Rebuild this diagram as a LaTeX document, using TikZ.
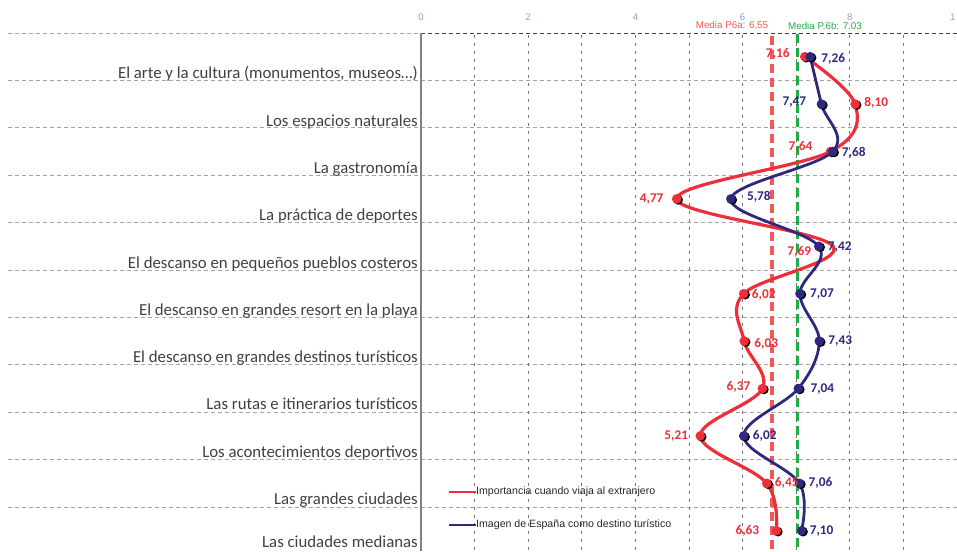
\documentclass[tikz,border=0pt]{standalone}
\usepackage{fontspec}
\setmainfont{Carlito}
\newfontfamily\arialfont{Liberation Sans}
\usetikzlibrary{positioning}

\definecolor{redline}{RGB}{238,46,56}
\definecolor{blueline}{RGB}{46,40,126}
\definecolor{redmean}{RGB}{242,88,88}
\definecolor{greenmean}{RGB}{34,172,72}
\definecolor{gridgray}{RGB}{165,165,165}
\definecolor{catgray}{RGB}{64,64,64}
\definecolor{ticklbl}{RGB}{140,158,188}

\begin{document}
\begin{tikzpicture}[x=1pt,y=-1pt]
        \tikzstyle{every node}=[inner sep=0pt]
        \tikzstyle{hgrid}=[draw=gridgray, line width=0.7pt, dash pattern=on 4pt off 3pt]
        \tikzstyle{vgrid}=[draw=gridgray!70!black, line width=0.7pt, dash pattern=on 3pt off 5pt]
        \tikzstyle{cat}=[anchor=base east, text=catgray, font=\fontsize{16.8}{18}\selectfont]
        \tikzstyle{redval}=[text=redline, font=\bfseries\fontsize{13.3}{15}\selectfont]
        \tikzstyle{blueval}=[text=blueline, font=\bfseries\fontsize{13.3}{15}\selectfont]
        \tikzstyle{small}=[font=\arialfont\fontsize{9.5}{11}\selectfont]
        \tikzstyle{redcurve}=[draw=redline, line width=3.2pt, line cap=round, line join=round]
        \tikzstyle{bluecurve}=[draw=blueline, line width=2.8pt, line cap=round, line join=round]
        \tikzstyle{meanline}=[line width=3.2pt, dash pattern=on 9pt off 5pt]
        \useasboundingbox (0,0) rectangle (957,551);

        % grid
        \foreach \i in {1,...,10} \draw[hgrid] (8,{33+47.4*\i}) -- (957,{33+47.4*\i});
        \draw[hgrid] (8,33) -- (421,33);
        \draw[draw=black!75, line width=0.8pt, dash pattern=on 4pt off 3pt] (421,33) -- (957,33);
        \foreach \k in {1,...,9} \draw[vgrid] ({421+53.6*\k},35) -- ({421+53.6*\k},551);
        \draw[gray, line width=1.3pt] (421,33) -- (421,551);
        \foreach \k in {0,2,4,6,8} \node[small, text=ticklbl] (t\k) at ({421+53.6*\k},17) {\k};
        \node[small, text=ticklbl, anchor=west] (t10) at (950,17) {1};

        % categories
        \foreach \txt [count=\i] in {{El arte y la cultura (monumentos, museos\ldots)},Los espacios naturales,
            La gastronomía,La práctica de deportes,El descanso en pequeños pueblos costeros,
            El descanso en grandes resort en la playa,El descanso en grandes destinos turísticos,
            Las rutas e itinerarios turísticos,Los acontecimientos deportivos,Las grandes ciudades,
            Las ciudades medianas}
            \node[cat] (c\i) at (418,{min(33+47.3*\i-1.5,547)}) {\txt};

        % means
        \coordinate (ma) at ({421+53.6*6.55},36);
        \coordinate (mb) at ({421+53.6*7.03},34);
        \draw[meanline, redmean] (ma) -- (ma |- 0,551);
        \draw[meanline, greenmean] (mb) -- (mb |- 0,551);
        \node[text=redmean, font=\arialfont\fontsize{9.8}{11}\selectfont] (lma) at (732,26) {Media P6a: 6,55};
        \node[text=greenmean, font=\arialfont\fontsize{9.8}{11}\selectfont] (lmb) at (825,26) {Media P.6b: 7.03};

        % data
        \foreach \v [count=\i] in {7.16,8.10,7.64,4.77,7.69,6.02,6.03,6.37,5.21,6.45,6.63}
            \coordinate (r\i) at ({421+53.6*\v},{33+47.4*(\i-0.5)});
        \foreach \v [count=\i] in {7.26,7.47,7.68,5.78,7.42,7.07,7.43,7.04,6.02,7.06,7.10}
            \coordinate (b\i) at ({421+53.6*\v},{33+47.4*(\i-0.5)});

        \draw[redcurve] plot[smooth, tension=0.6] coordinates {(r1) (r2) (r3) (r4) (r5) (r6) (r7) (r8) (r9) (r10) (r11)};
        \foreach \i in {1,2,3,4,6,7,8,9,10,11} {
            \fill[black] ([shift={(1.5,1)}]r\i) circle (4.8);
            \fill[redline] (r\i) circle (4.8);
        }
        \draw[bluecurve] plot[smooth, tension=0.6] coordinates {(b1) (b2) (b3) (b4) (b5) (b6) (b7) (b8) (b9) (b10) (b11)};
        \foreach \i in {1,...,11} {
            \fill[black] ([shift={(1.5,1)}]b\i) circle (4.8);
            \fill[blueline] (b\i) circle (4.8);
        }

        % values
        \node[redval, left=15pt of r1, yshift=3pt] (lr1) {7,16};
        \node[blueval, right=11pt of b1, yshift=-2pt] (lb1) {7,26};
        \node[blueval, left=15pt of b2, yshift=2pt] (lb2) {7,47};
        \node[redval, right=9pt of r2, yshift=1pt] (lr2) {8,10};
        \node[redval, left=18pt of r3, yshift=5pt] (lr3) {7,64};
        \node[blueval, right=9pt of b3, yshift=-1pt] (lb3) {7,68};
        \node[redval, left=13pt of r4] (lr4) {4,77};
        \node[blueval, right=16pt of b4, yshift=2pt] (lb4) {5,78};
        \node[blueval, right=9pt of b5, yshift=-1pt] (lb5) {7,42};
        \node[redval, left=22pt of r5, yshift=-6pt] (lr5) {7,69};
        \node[redval, right=8pt of r6, yshift=-1pt] (lr6) {6,02};
        \node[blueval, right=10pt of b6] (lb6) {7,07};
        \node[redval, right=10pt of r7, yshift=-3pt] (lr7) {6,03};
        \node[blueval, right=9pt of b7] (lb7) {7,43};
        \node[redval, left=12pt of r8, yshift=2pt] (lr8) {6,37};
        \node[blueval, right=12pt of b8, yshift=-1pt] (lb8) {7,04};
        \node[redval, left=12pt of r9] (lr9) {5,21};
        \node[blueval, right=9pt of b9] (lb9) {6,02};
        \node[redval, right=8pt of r10] (lr10) {6,45};
        \node[blueval, right=9pt of b10] (lb10) {7,06};
        \node[redval, left=17pt of r11] (lr11) {6,63};
        \node[blueval, right=8pt of b11] (lb11) {7,10};

        % legend
        \coordinate (la) at (449,492);
        \coordinate (lb) at (449,525);
        \node[small, anchor=west, text=black!85, font=\arialfont\fontsize{10.6}{12}\selectfont] (leg1) at (476,492) {Importancia cuando viaja al extranjero};
        \node[small, anchor=west, text=black!85, font=\arialfont\fontsize{10.6}{12}\selectfont] (leg2) at (476,525) {Imagen de España como destino turístico};
        \draw[redline, line width=2.4pt] (la) -- (leg1.west);
        \draw[blueline, line width=2.4pt] (lb) -- (leg2.west);
\end{tikzpicture}
\end{document}
